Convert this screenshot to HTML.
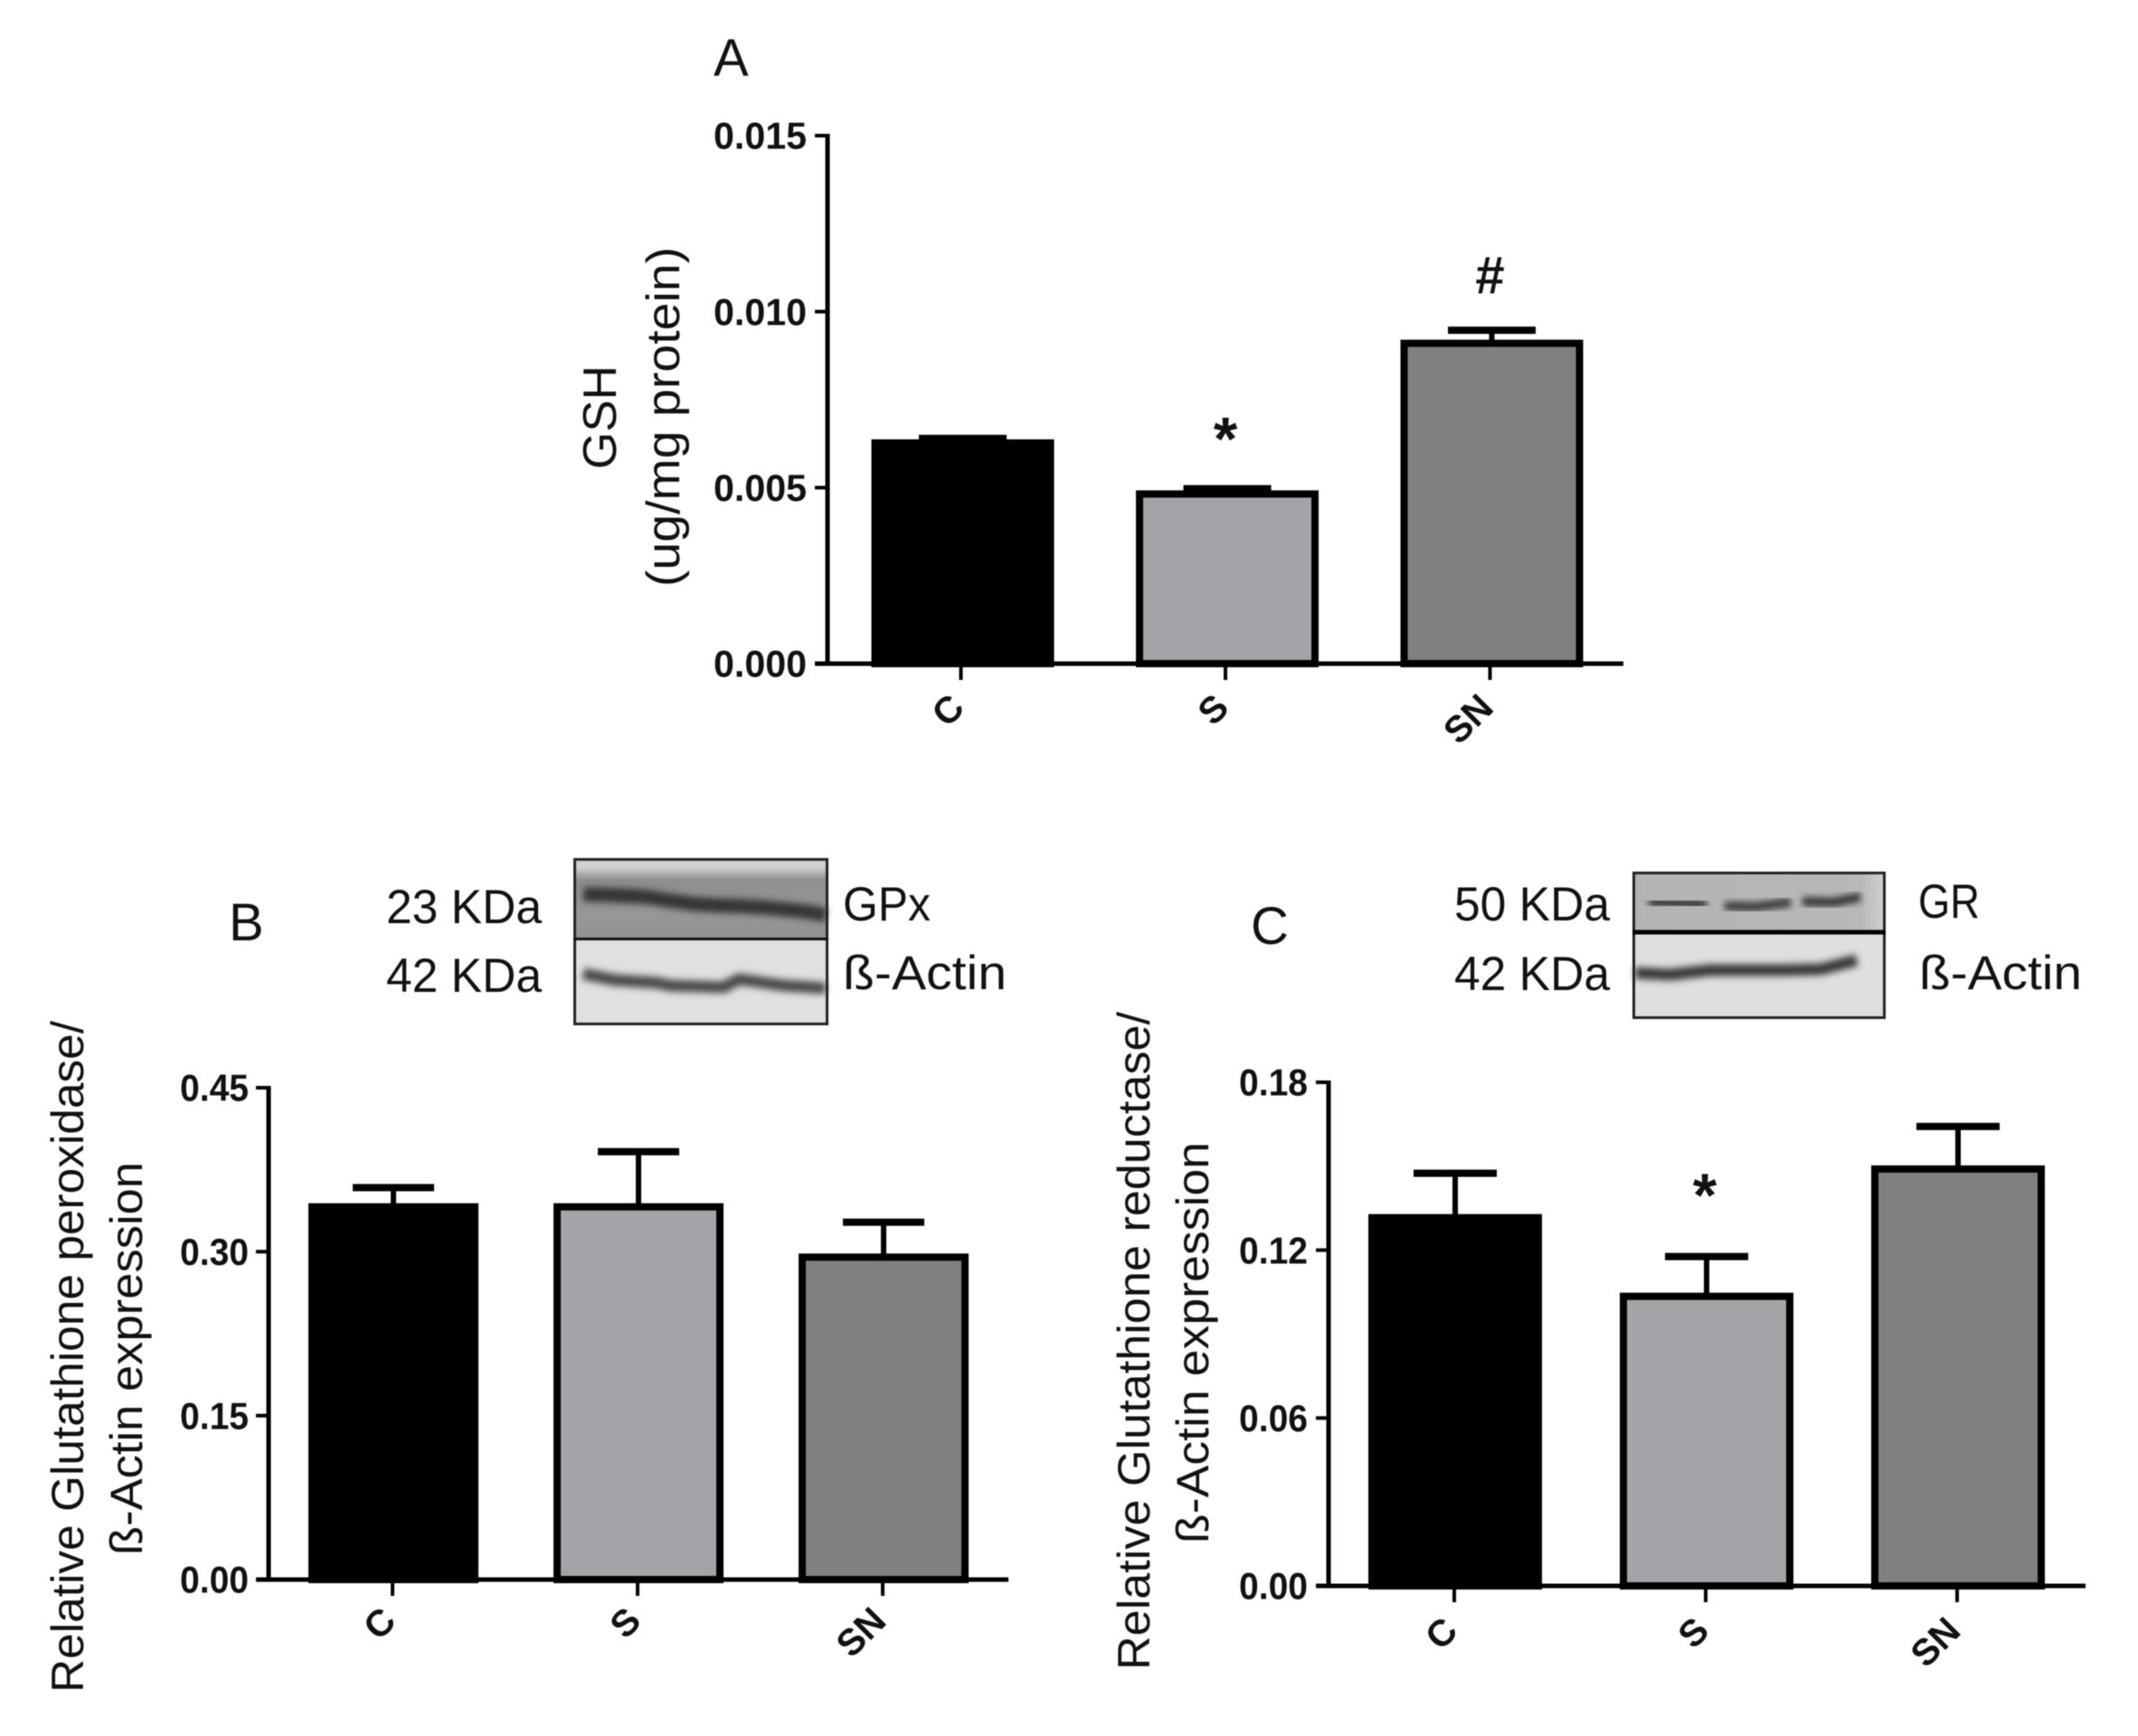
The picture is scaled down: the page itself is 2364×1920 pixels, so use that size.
<!DOCTYPE html>
<html>
<head>
<meta charset="utf-8">
<title>Glutathione panels</title>
<style>
html,body{margin:0;padding:0;background:#fff;}
#figure{display:block;width:2364px;height:1920px;filter:blur(0.6px);}
text{font-family:"Liberation Sans",sans-serif;fill:#111;}
</style>
</head>
<body>
<svg id="figure" xmlns="http://www.w3.org/2000/svg" width="2364" height="1920" viewBox="0 0 2364 1920">
  <defs>
    <filter id="soft" x="-10%" y="-100%" width="120%" height="300%"><feGaussianBlur stdDeviation="3.6"/></filter>
    <linearGradient id="gpxBg" x1="0" y1="0" x2="0" y2="1">
      <stop offset="0" stop-color="#d6d6d6"/><stop offset="0.12" stop-color="#cfcfcf"/>
      <stop offset="0.27" stop-color="#8f8f8f"/><stop offset="0.7" stop-color="#979797"/><stop offset="1" stop-color="#939393"/>
    </linearGradient>
    <linearGradient id="grBg" x1="0" y1="0" x2="1" y2="0">
      <stop offset="0" stop-color="#b4b4b4"/><stop offset="0.9" stop-color="#b8b8b8"/><stop offset="1" stop-color="#d2d2d2"/>
    </linearGradient>
  </defs>

  <!-- Western blot, panel B -->
  <g>
    <rect x="634" y="949" width="282" height="89" fill="url(#gpxBg)"/>
    <path d="M645 989 L680 990 L717 992 L733 995 L770 1000 L807 1002 L817 1002 L850 1004 L890 1008 L913 1012" fill="none" stroke="#363636" stroke-width="16" filter="url(#soft)"/>
    <rect x="634" y="1038" width="282" height="96" fill="#e0e0e0"/>
    <path d="M645 1077 L680 1084 L727 1087 L740 1090 L800 1092 L817 1083 L867 1090 L913 1093" fill="none" stroke="#4a4a4a" stroke-width="13" filter="url(#soft)"/>
    <rect x="635.5" y="950.5" width="279" height="182" fill="none" stroke="#222" stroke-width="3"/>
    <line x1="634" x2="916" y1="1038.5" y2="1038.5" stroke="#111" stroke-width="3"/>
  </g>

  <!-- Western blot, panel C -->
  <g>
    <rect x="1805" y="964" width="280" height="67" fill="url(#grBg)"/>
    <path d="M1823 998 L1855 999 L1887 1000" fill="none" stroke="#303030" stroke-width="10" filter="url(#soft)"/>
    <path d="M1907 1002 L1940 1003 L1980 998" fill="none" stroke="#383838" stroke-width="10" filter="url(#soft)"/>
    <path d="M1993 997 L2027 998 L2057 992" fill="none" stroke="#303030" stroke-width="10" filter="url(#soft)"/>
    <rect x="1805" y="1031" width="280" height="96" fill="#dfdfdf"/>
    <path d="M1808 1076 L1847 1078 L1890 1073 L1970 1073 L2013 1072 L2053 1062" fill="none" stroke="#383838" stroke-width="13" filter="url(#soft)"/>
    <rect x="1806.5" y="965.5" width="277" height="160" fill="none" stroke="#222" stroke-width="3"/>
    <line x1="1805" x2="2085" y1="1031" y2="1031" stroke="#000" stroke-width="5"/>
  </g>

  <!-- Panel letters and blot labels -->
  <text x="789" y="84" font-size="58">A</text>
  <text x="253" y="1040" font-size="58">B</text>
  <text x="1383" y="1044" font-size="58">C</text>

  <text x="427" y="1021" font-size="53" textLength="172" lengthAdjust="spacingAndGlyphs">23 KDa</text>
  <text x="427" y="1097" font-size="53" textLength="172" lengthAdjust="spacingAndGlyphs">42 KDa</text>
  <text x="932" y="1018" font-size="53" textLength="97" lengthAdjust="spacingAndGlyphs">GPx</text>
  <text x="932" y="1094" font-size="53" textLength="181" lengthAdjust="spacingAndGlyphs">ß-Actin</text>

  <text x="1608" y="1018" font-size="53" textLength="172" lengthAdjust="spacingAndGlyphs">50 KDa</text>
  <text x="1608" y="1095" font-size="53" textLength="172" lengthAdjust="spacingAndGlyphs">42 KDa</text>
  <text x="2121" y="1015" font-size="53" textLength="68" lengthAdjust="spacingAndGlyphs">GR</text>
  <text x="2122" y="1094" font-size="53" textLength="180" lengthAdjust="spacingAndGlyphs">ß-Actin</text>

  <g id="panel-a"></g>
  <g id="panel-b"></g>
  <g id="panel-c"></g>
</svg>

<script>
var categories = ['C', 'S', 'SN'];

var gshValues = [0.00627, 0.00482, 0.0091];
var gshErrorTops = [0.0064, 0.00497, 0.00947];
var gshTicks = [0, 0.005, 0.010, 0.015];
var gshTickLabels = ['0.000', '0.005', '0.010', '0.015'];
var gshMarks = ['', '*', '#'];

var gpxValues = [0.341, 0.341, 0.295];
var gpxErrorTops = [0.3586, 0.3915, 0.327];
var gpxTicks = [0, 0.15, 0.30, 0.45];
var gpxTickLabels = ['0.00', '0.15', '0.30', '0.45'];
var gpxMarks = ['', '', ''];

var grValues = [0.1316, 0.1035, 0.149];
var grErrorTops = [0.1475, 0.1177, 0.1642];
var grTicks = [0, 0.06, 0.12, 0.18];
var grTickLabels = ['0.00', '0.06', '0.12', '0.18'];
var grMarks = ['', '*', ''];

var NS = 'http://www.w3.org/2000/svg';

function make(parent, tag) {
  var el = document.createElementNS(NS, tag);
  parent.appendChild(el);
  return el;
}

function setAll(el, props) {
  for (var k in props) { el.setAttribute(k, props[k]); }
}

function drawPanel(root, p, values, errorTops, ticks, tickLabels, marks) {
  function yScale(v) { return p.y0 - (v / p.yMax) * (p.y0 - p.yTop); }
  function xScale(i) { return p.x0 + i * p.step; }

  var barFills = ['#000000', '#a3a3a8', '#808080'];

  // bars and error bars
  values.forEach(function (v, i) {
    var cx = xScale(i);
    var top = yScale(v);
    var errTop = yScale(errorTops[i]);

    var stem = make(root, 'line');
    setAll(stem, { x1: cx, x2: cx, y1: top, y2: errTop, stroke: '#000', 'stroke-width': 6 });
    
    

    var cap = make(root, 'line');
    setAll(cap, { x1: cx - p.capW / 2, x2: cx + p.capW / 2, y1: errTop, y2: errTop, stroke: '#000', 'stroke-width': 8 });
    
    

    var bar = make(root, 'rect');
    setAll(bar, {
      x: cx - p.barW / 2 + 4, y: top,
      width: p.barW - 8, height: p.y0 - top,
      fill: barFills[i], stroke: '#000', 'stroke-width': 8
    });
    
    

    if (marks[i]) {
      var mark = make(root, 'text');
      var isStar = marks[i] === '*';
      setAll(mark, {
        x: cx - 2, y: errTop - (isStar ? p.starGap : p.hashGap),
        'font-size': isStar ? 68 : 58, 'font-weight': 'bold', 'text-anchor': 'middle'
      });
      mark.textContent = marks[i];
      
      
    }
  });

  // y axis
  var yAxis = make(root, 'line');
  setAll(yAxis, { x1: p.axisX, x2: p.axisX, y1: p.yTop - 2, y2: p.y0 + 2, stroke: '#000', 'stroke-width': 5 });
  
  

  // x axis
  var xAxis = make(root, 'line');
  setAll(xAxis, { x1: p.axisX - 14, x2: p.axisEnd, y1: p.y0, y2: p.y0, stroke: '#000', 'stroke-width': 5 });
  
  

  // y ticks and labels
  ticks.forEach(function (t, i) {
    var y = yScale(t);
    var tick = make(root, 'line');
    setAll(tick, { x1: p.axisX - 14, x2: p.axisX, y1: y, y2: y, stroke: '#000', 'stroke-width': 4 });
    
    

    var label = make(root, 'text');
    setAll(label, {
      x: p.tickLabelEnd - p.tickLabelW, y: y + p.tickFont * 0.35,
      'font-size': p.tickFont, 'font-weight': 'bold',
      textLength: p.tickLabelW, lengthAdjust: 'spacingAndGlyphs'
    });
    label.textContent = tickLabels[i];
    
    
  });

  // x ticks and category labels
  categories.forEach(function (c, i) {
    var x = xScale(i) - p.tickShift;
    var tick = make(root, 'line');
    setAll(tick, { x1: x, x2: x, y1: p.y0, y2: p.y0 + 18, stroke: '#000', 'stroke-width': 4 });
    
    

    var lx = x - 4;
    var ly = p.y0 + p.catDy;
    var label = make(root, 'text');
    setAll(label, {
      x: lx, y: ly, 'font-size': 41, 'font-weight': 'bold',
      'text-anchor': 'end', 'dominant-baseline': 'central',
      transform: 'rotate(-45 ' + lx + ' ' + ly + ')'
    });
    label.textContent = c;
    
    
  });

  // y axis title lines
  p.titles.forEach(function (t) {
    var title = make(root, 'text');
    var cy = (t.from + t.to) / 2;
    setAll(title, {
      x: t.x, y: cy, 'font-size': t.size, 'text-anchor': 'middle',
      'dominant-baseline': 'central',
      textLength: t.to - t.from, lengthAdjust: 'spacingAndGlyphs',
      transform: 'rotate(-90 ' + t.x + ' ' + cy + ')'
    });
    title.textContent = t.text;
    
    
  });
}

drawPanel(document.getElementById('panel-a'), {
  axisX: 915, axisEnd: 1795, y0: 734, yTop: 150, yMax: 0.015,
  x0: 1064.5, step: 292.5, barW: 202, capW: 97, tickShift: 2,
  tickFont: 42, tickLabelW: 103, tickLabelEnd: 892, catDy: 41,
  starGap: 32, hashGap: 41,
  titles: [
    { text: 'GSH', x: 664, from: 404, to: 519, size: 52 },
    { text: '(ug/mg protein)', x: 734, from: 273, to: 649, size: 52 }
  ]
}, gshValues, gshErrorTops, gshTicks, gshTickLabels, gshMarks);

drawPanel(document.getElementById('panel-b'), {
  axisX: 297, axisEnd: 1115, y0: 1747, yTop: 1203, yMax: 0.45,
  x0: 435, step: 271, barW: 188, capW: 90, tickShift: 1,
  tickFont: 42, tickLabelW: 76, tickLabelEnd: 275, catDy: 38,
  starGap: 45, hashGap: 41,
  titles: [
    { text: 'Relative Glutathione peroxidase/', x: 75, from: 1129, to: 1872, size: 50 },
    { text: 'ß-Actin expression', x: 140, from: 1285, to: 1720, size: 50 }
  ]
}, gpxValues, gpxErrorTops, gpxTicks, gpxTickLabels, gpxMarks);

drawPanel(document.getElementById('panel-c'), {
  axisX: 1469, axisEnd: 2306, y0: 1754, yTop: 1197, yMax: 0.18,
  x0: 1609, step: 278, barW: 192, capW: 92, tickShift: 1,
  tickFont: 42, tickLabelW: 76, tickLabelEnd: 1446, catDy: 42,
  starGap: 45, hashGap: 41,
  titles: [
    { text: 'Relative Glutathione reductase/', x: 1254, from: 1119, to: 1847, size: 50 },
    { text: 'ß-Actin expression', x: 1319, from: 1263, to: 1707, size: 50 }
  ]
}, grValues, grErrorTops, grTicks, grTickLabels, grMarks);
</script>
</body>
</html>
